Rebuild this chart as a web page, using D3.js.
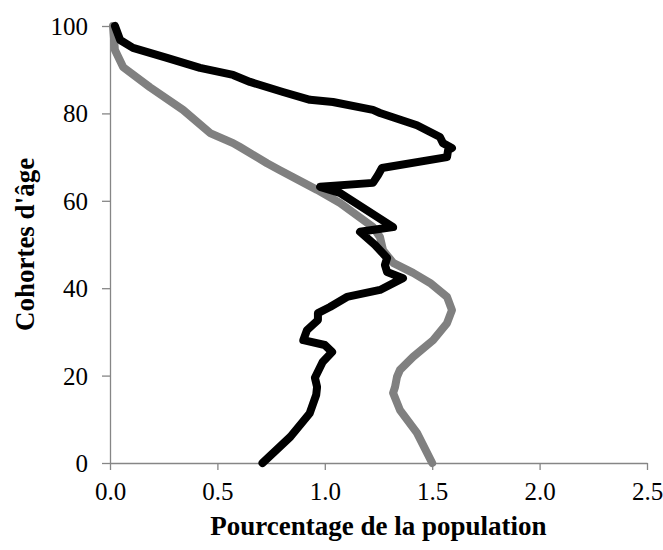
<!DOCTYPE html>
<html><head><meta charset="utf-8">
<script src="https://cdn.jsdelivr.net/npm/d3@7"></script>
<style>body{margin:0;background:#fff}svg{display:block}</style>
</head><body>
<svg id="c" width="663" height="550"></svg>
<script>
// Data
const blackAges   = [0, 6, 11.4, 15.6, 17.4, 19.5, 23.1, 25.4, 27, 28.1, 30.4, 32.7, 34.3, 35.7, 38, 39.6, 42.3, 43.7, 45.3, 46.9, 49.9, 52.9, 54, 61.8, 63.2, 64.1, 65.9, 67.5, 70, 71.6, 72.1, 73.2, 74.6, 77.3, 80.1, 80.8, 82.6, 83.1, 84.9, 87.2, 88.8, 90.4, 92.7, 95, 96.8, 100];
const blackValues = [0.71, 0.84, 0.93, 0.96, 0.964, 0.954, 0.99, 1.034, 1.0, 0.9, 0.917, 0.968, 0.968, 1.024, 1.103, 1.257, 1.364, 1.29, 1.28, 1.29, 1.234, 1.164, 1.318, 1.07, 0.978, 1.224, 1.248, 1.266, 1.569, 1.574, 1.592, 1.55, 1.536, 1.429, 1.257, 1.224, 1.038, 0.931, 0.805, 0.652, 0.573, 0.419, 0.265, 0.107, 0.047, 0.023];
const grayAges    = [0, 6.9, 12.1, 16, 17.4, 19.7, 21.3, 24.3, 28.1, 32, 35, 38, 41.2, 43.5, 45.8, 48.7, 51.7, 54, 59.5, 62.5, 67, 68.6, 72.3, 73.2, 75.5, 80.8, 86, 90.6, 94.5, 100];
const grayValues  = [1.5, 1.429, 1.35, 1.318, 1.327, 1.336, 1.35, 1.411, 1.504, 1.569, 1.592, 1.569, 1.49, 1.411, 1.318, 1.271, 1.257, 1.224, 1.071, 0.964, 0.791, 0.731, 0.605, 0.573, 0.466, 0.34, 0.186, 0.061, 0.023, 0.014];
const xTicks = [0, 0.5, 1.0, 1.5, 2.0, 2.5];
const yTicks = [0, 20, 40, 60, 80, 100];
const xTitle = "Pourcentage de la population";
const yTitle = "Cohortes d'âge";

const svg = d3.select("#c");
const x = d3.scaleLinear().domain([0, 2.5]).range([110, 647]);
const y = d3.scaleLinear().domain([0, 100]).range([463, 26]);
const axisColor = "#868686";
const font = "'Liberation Serif','Times New Roman',serif";

// X axis
const gx = svg.append("g").attr("transform", `translate(0,${y(0)})`)
  .call(d3.axisBottom(x).tickValues(xTicks).tickFormat(d3.format(".1f")).tickSize(7).tickSizeOuter(0));
gx.select(".domain").attr("stroke", axisColor).attr("stroke-width", 1.3);
gx.selectAll(".tick line").attr("stroke", axisColor).attr("stroke-width", 1.3);
gx.selectAll(".tick text").attr("font-family", font).attr("font-size", 25).attr("fill", "#000")
  .attr("y", 37).attr("dy", null);

// Y axis
const gy = svg.append("g").attr("transform", `translate(${x(0)},0)`)
  .call(d3.axisLeft(y).tickValues(yTicks).tickSize(8).tickSizeOuter(0));
gy.select(".domain").attr("stroke", axisColor).attr("stroke-width", 1.3);
gy.selectAll(".tick line").attr("stroke", axisColor).attr("stroke-width", 1.3);
gy.selectAll(".tick text").attr("font-family", font).attr("font-size", 25).attr("fill", "#000")
  .attr("x", -22).attr("dy", "0.34em");

// Lines
const line = d3.line().x(d => x(d[0])).y(d => y(d[1]));
const series = [
  {vals: grayValues, ages: grayAges, color: "#808080"},
  {vals: blackValues, ages: blackAges, color: "#000000"}
];
series.forEach(s => {
  svg.append("path")
    .datum(s.vals.map((v, i) => [v, s.ages[i]]))
    .attr("d", line)
    .attr("fill", "none")
    .attr("stroke", s.color)
    .attr("stroke-width", 8)
    .attr("stroke-linejoin", "round")
    .attr("stroke-linecap", "round");
});

// Titles
svg.append("text").attr("x", (x(0) + x(2.5)) / 2).attr("y", 535)
  .attr("text-anchor", "middle").attr("font-family", font).attr("font-weight", "bold")
  .attr("font-size", 27).text(xTitle);
svg.append("text").attr("transform", `translate(34,${(y(0) + y(100)) / 2}) rotate(-90)`)
  .attr("text-anchor", "middle").attr("font-family", font).attr("font-weight", "bold")
  .attr("font-size", 27).text(yTitle);
</script>
</body></html>
